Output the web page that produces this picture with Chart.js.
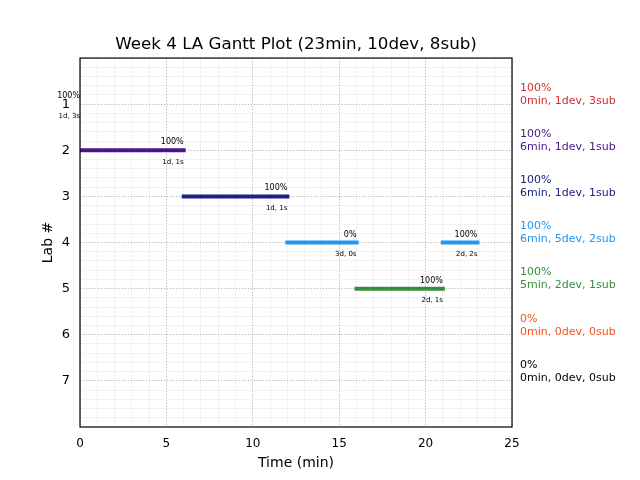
<!DOCTYPE html>
<html>
<head>
<meta charset="utf-8">
<title>Week 4 LA Gantt Plot</title>
<script src="https://cdn.jsdelivr.net/npm/chart.js@4.4.1/dist/chart.umd.min.js"></script>
<style>
  html, body { margin: 0; padding: 0; background: #fff; }
  #wrap { width: 640px; height: 480px; }
</style>
</head>
<body>
<div id="wrap"><canvas id="gantt" width="640" height="480"></canvas></div>
<script>
// per-lab values
const labs = [1, 2, 3, 4, 5, 6, 7];
const labColors = ['#d32f2f', '#4a148c', '#1a237e', '#2196f3', '#388e3c', '#f4511e', '#000000'];
const labPct = ['100%', '100%', '100%', '100%', '100%', '0%', '0%'];
const labSummary = [
  '0min, 1dev, 3sub',
  '6min, 1dev, 1sub',
  '6min, 1dev, 1sub',
  '6min, 5dev, 2sub',
  '5min, 2dev, 1sub',
  '0min, 0dev, 0sub',
  '0min, 0dev, 0sub'
];

// one entry per work segment
const segLab = [1, 2, 3, 4, 4, 5];
const segStart = [0, 0, 6, 12, 21, 16];
const segEnd = [0, 6, 12, 16, 23, 21];
const segPct = ['100%', '100%', '100%', '0%', '100%', '100%'];
const segInfo = ['1d, 3s', '1d, 1s', '1d, 1s', '3d, 0s', '2d, 2s', '2d, 1s'];

const xTicks = [0, 5, 10, 15, 20, 25];
const yTicks = [1, 2, 3, 4, 5, 6, 7];

Chart.defaults.font.family = '"DejaVu Sans", sans-serif';
Chart.defaults.color = '#000';

// zero-length segments get no line, only their labels
const datasets = segLab
  .map((lab, i) => ({
    data: [{ x: segStart[i], y: lab }, { x: segEnd[i], y: lab }],
    borderColor: labColors[lab - 1],
    borderWidth: 4,
    borderCapStyle: 'square',
    showLine: true,
    pointRadius: 0,
    fill: false,
    clip: 0
  }))
  .filter((d, i) => segEnd[i] > segStart[i]);

// frame, end-of-segment labels and the summary column on the right
const ganttText = {
  id: 'ganttText',
  afterDatasetsDraw(chart) {
    const { ctx, chartArea: a, scales: { x, y } } = chart;
    ctx.save();
    ctx.strokeStyle = '#000';
    ctx.lineWidth = 1.2;
    ctx.strokeRect(a.left, a.top, a.width, a.height);

    ctx.fillStyle = '#000';
    ctx.textAlign = 'right';
    ctx.textBaseline = 'middle';
    segLab.forEach((lab, i) => {
      const px = x.getPixelForValue(segEnd[i]);
      const py = y.getPixelForValue(lab);
      ctx.font = '8px "DejaVu Sans"';
      ctx.fillText(segPct[i], px, py - 8);
      ctx.font = '7px "DejaVu Sans"';
      ctx.fillText(segInfo[i], px, py + 12);
    });

    ctx.textAlign = 'left';
    ctx.font = '11px "DejaVu Sans"';
    labs.forEach((lab, i) => {
      const py = y.getPixelForValue(lab);
      ctx.fillStyle = labColors[i];
      ctx.fillText(labPct[i], a.right + 8, py - 16);
      ctx.fillText(labSummary[i], a.right + 8, py - 3);
    });
    ctx.restore();
  }
};

new Chart(document.getElementById('gantt'), {
  type: 'scatter',
  data: { datasets: datasets },
  options: {
    responsive: false,
    animation: false,
    layout: { padding: { left: 0, right: 48, top: 0, bottom: 0 } },
    plugins: {
      legend: { display: false },
      tooltip: { enabled: false },
      title: {
        display: true,
        text: 'Week 4 LA Gantt Plot (23min, 10dev, 8sub)',
        font: { size: 16.7, weight: 'normal' },
        color: '#000',
        padding: { top: 35, bottom: 3 }
      }
    },
    scales: {
      xMinor: {
        type: 'linear', position: 'bottom', min: 0, max: 25,
        ticks: { display: false, stepSize: 1 },
        grid: { color: '#f2f2f2', drawTicks: false, z: -2 },
        border: { display: false },
        afterFit: s => { s.height = 0; }
      },
      yMinor: {
        type: 'linear', position: 'left', min: 0, max: 8, reverse: true,
        ticks: { display: false, stepSize: 0.2 },
        grid: { color: '#f2f2f2', drawTicks: false, z: -2 },
        border: { display: false },
        afterFit: s => { s.width = 0; }
      },
      // empty axis that keeps room for the summary column
      yRight: {
        type: 'linear', position: 'right', min: 0, max: 8,
        ticks: { display: false },
        grid: { display: false, drawTicks: false },
        border: { display: false },
        afterFit: s => { s.width = 80; }
      },
      x: {
        type: 'linear', position: 'bottom', min: 0, max: 25,
        afterBuildTicks: s => { s.ticks = xTicks.map(v => ({ value: v })); },
        ticks: { padding: 10, font: { size: 12 }, color: '#000' },
        grid: { color: '#bbbbbb', drawTicks: false, tickLength: 0 },
        border: { display: false, dash: [1, 2] },
        title: { display: true, text: 'Time (min)', font: { size: 14 }, color: '#000', padding: { top: 0, bottom: 8 } },
        afterFit: s => { s.height = 53; }
      },
      y: {
        type: 'linear', position: 'left', min: 0, max: 8, reverse: true,
        afterBuildTicks: s => { s.ticks = yTicks.map(v => ({ value: v })); },
        ticks: { padding: 10, font: { size: 13 }, color: '#000' },
        grid: { color: '#bbbbbb', drawTicks: false, tickLength: 0 },
        border: { display: false, dash: [1, 2] },
        title: { display: true, text: 'Lab #', font: { size: 14 }, color: '#000', padding: { top: 40, bottom: 0 } },
        afterFit: s => { s.width = 80; }
      }
    }
  },
  plugins: [ganttText]
});
</script>
</body>
</html>
